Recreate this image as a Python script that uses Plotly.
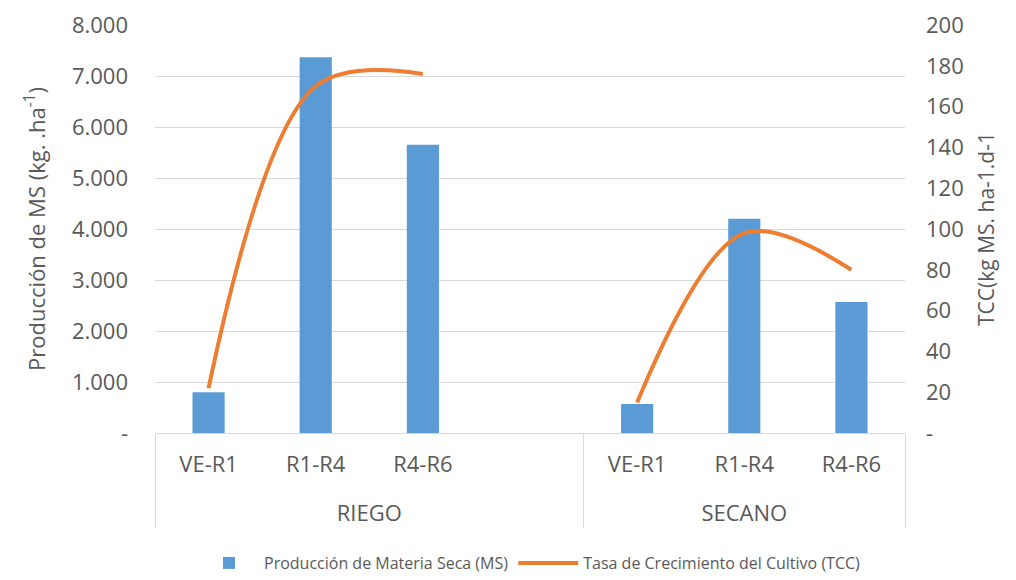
import plotly.graph_objects as go

# Data: dry matter production (bars) and crop growth rate (line)
groups = ["RIEGO", "RIEGO", "RIEGO", "RIEGO", "SECANO", "SECANO", "SECANO"]
stages = ["VE-R1", "R1-R4", "R4-R6", " ", "VE-R1", "R1-R4", "R4-R6"]
ms_values = [800, 7370, 5650, None, 570, 4200, 2570]
tcc_values = [22, 170, 176, None, 15, 98, 80]

left_tickvals = [0, 1000, 2000, 3000, 4000, 5000, 6000, 7000, 8000]
left_ticktext = ["-", "1.000", "2.000", "3.000", "4.000", "5.000", "6.000", "7.000", "8.000"]
right_tickvals = [0, 20, 40, 60, 80, 100, 120, 140, 160, 180, 200]
right_ticktext = ["-", "20", "40", "60", "80", "100", "120", "140", "160", "180", "200"]

FONT = "Open Sans"
TXT = "#595959"
GRID = "#d9d9d9"

# stage labels get a blank second line so the group row sits lower
stage_labels = [s + "<br> " for s in stages]

fig = go.Figure()
fig.add_trace(go.Bar(
    x=[groups, stage_labels], y=ms_values,
    name="Producción de Materia Seca (MS)",
    marker=dict(color="#5b9bd5", line=dict(width=0)),
    width=0.3,
))
fig.add_trace(go.Scatter(
    x=[groups, stage_labels], y=tcc_values,
    name="Tasa de Crecimiento del Cultivo (TCC)",
    mode="lines", yaxis="y2",
    line=dict(color="#ed7d31", width=4, shape="spline", smoothing=1.0),
    connectgaps=False,
))

fig.update_layout(
    width=1016, height=580,
    margin=dict(l=155, r=111, t=25, b=147, autoexpand=False),
    paper_bgcolor="white", plot_bgcolor="white",
    font=dict(family=FONT, size=21, color=TXT),
    showlegend=True,
    legend=dict(orientation="h", x=0.5, xanchor="center",
                yref="container", y=-0.008, yanchor="bottom",
                font=dict(size=16, color=TXT), itemwidth=60),
    xaxis=dict(
        type="multicategory",
        showline=True, linecolor=GRID, linewidth=1,
        showdividers=True, dividercolor=GRID, dividerwidth=1,
        ticks="", tickfont=dict(size=22, color=TXT),
        ticklabelstandoff=12,
        showgrid=False, zeroline=False, automargin=False,
    ),
    yaxis=dict(
        range=[0, 8000],
        tickvals=left_tickvals, ticktext=left_ticktext,
        showgrid=True, gridcolor=GRID, gridwidth=1,
        zeroline=False, showline=False, ticks="",
        tickfont=dict(size=22, color=TXT), ticklabelstandoff=26,
        automargin=False,
        title=dict(text="Producción de MS (kg. .ha<sup>-1</sup>)",
                   font=dict(size=22, color=TXT), standoff=20),
    ),
    yaxis2=dict(
        range=[0, 200], overlaying="y", side="right",
        tickvals=right_tickvals, ticktext=right_ticktext,
        showgrid=False, zeroline=False, showline=False, ticks="",
        tickfont=dict(size=22, color=TXT), ticklabelstandoff=20,
        automargin=False,
        title=dict(text="TCC(kg MS. ha-1.d-1",
                   font=dict(size=21, color=TXT), standoff=16),
    ),
    bargap=0.7,
)

fig.write_html("out.html")
